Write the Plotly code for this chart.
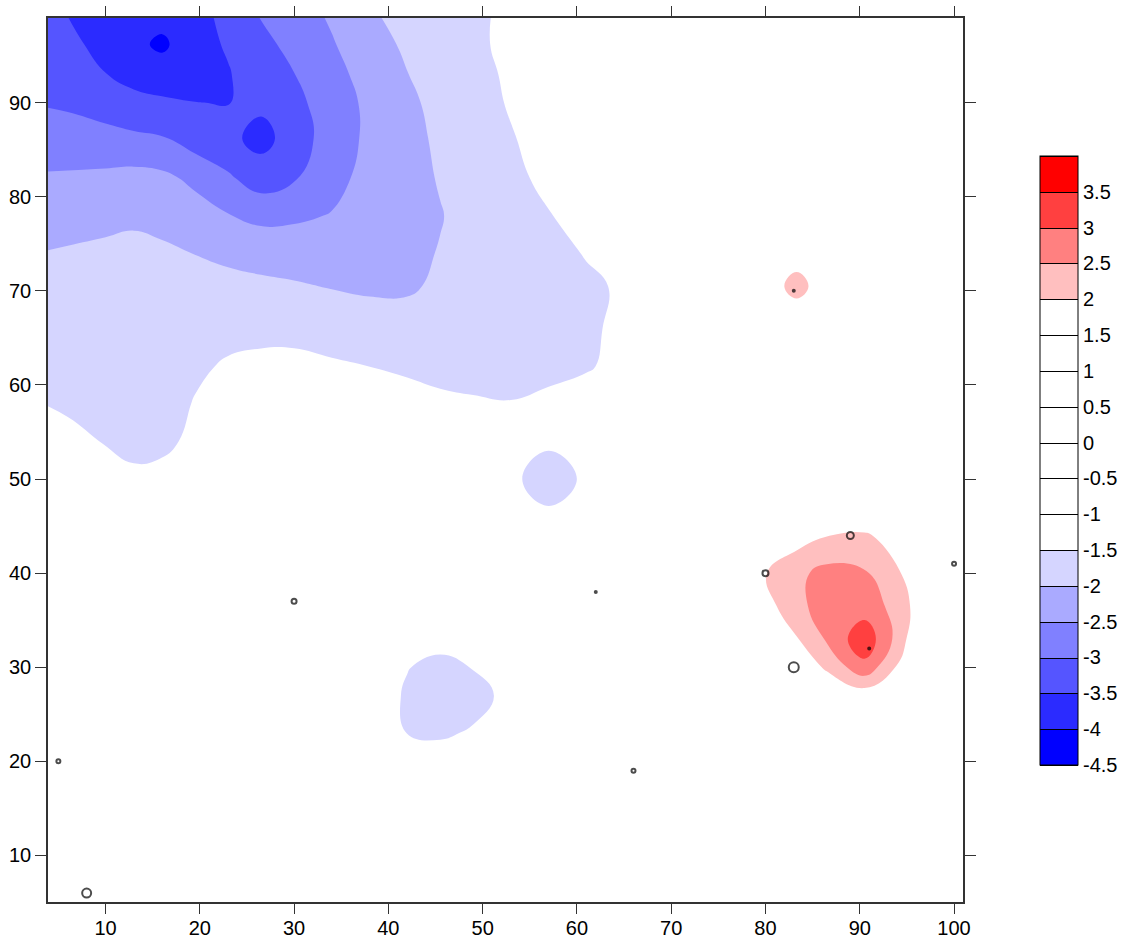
import plotly.graph_objects as go

# ---- gridded field ----
x_grid = [2, 6, 10, 13, 16, 19.5, 23, 26.5, 30, 34, 38, 42, 45.5, 49, 53, 57, 61, 65, 70, 75, 80, 83.3, 86.5, 90.5, 94, 98, 102]
y_grid = [3, 8, 13, 18, 23, 27, 30, 33, 36.5, 40, 44, 47, 50, 54, 58, 62, 66, 70.5, 74, 78, 82, 86.2, 90, 93, 96.2, 100]

z_grid = [
    [-0.6, -0.65, -0.7, -0.7, -0.7, -0.7, -0.75, -0.75, -0.75, -0.8, -0.8, -0.85, -0.8, -0.75, -0.7, -0.65, -0.55, -0.45, -0.3, -0.1, 0.0, 0.0, 0.05, 0.05, 0.05, 0.0, 0.0],
    [-0.7, -0.7, -0.75, -0.75, -0.75, -0.75, -0.8, -0.8, -0.8, -0.85, -0.85, -0.9, -0.85, -0.8, -0.8, -0.7, -0.6, -0.5, -0.3, -0.1, 0.0, 0.05, 0.1, 0.1, 0.1, 0.05, 0.0],
    [-0.7, -0.75, -0.8, -0.8, -0.8, -0.8, -0.85, -0.85, -0.9, -0.9, -0.95, -1.0, -0.95, -0.9, -0.85, -0.8, -0.7, -0.5, -0.3, -0.1, 0.0, 0.1, 0.2, 0.2, 0.2, 0.1, 0.0],
    [-0.8, -0.8, -0.85, -0.85, -0.85, -0.85, -0.9, -0.9, -0.95, -1.0, -1.1, -1.2, -1.09, -1.1, -1.0, -0.9, -0.8, -0.6, -0.3, -0.1, 0.1, 0.3, 0.4, 0.4, 0.3, 0.2, 0.1],
    [-0.8, -0.85, -0.9, -0.9, -0.9, -0.9, -0.95, -0.95, -1.0, -1.1, -1.2, -1.505, -1.567, -1.45, -1.3, -1.1, -0.9, -0.6, -0.3, 0.0, 0.3, 0.6, 0.9, 0.8, 0.6, 0.3, 0.1],
    [-0.9, -0.95, -1.0, -1.0, -1.0, -1.0, -1.0, -1.0, -1.05, -1.1, -1.2, -1.56, -1.95, -1.67, -1.36, -1.1, -0.9, -0.6, -0.2, 0.2, 0.6, 1.0, 1.4, 1.7, 1.3, 0.5, 0.2],
    [-0.9, -0.95, -1.0, -1.0, -1.0, -1.0, -1.0, -1.0, -1.05, -1.1, -1.2, -1.48, -1.64, -1.48, -1.3, -1.1, -0.9, -0.6, -0.1, 0.4, 1.0, 1.5, 2.1, 2.85, 1.95, 0.7, 0.3],
    [-0.9, -0.95, -1.0, -1.0, -1.0, -1.0, -1.0, -1.0, -1.05, -1.1, -1.2, -1.3, -1.33, -1.3, -1.2, -1.0, -0.8, -0.5, 0.0, 0.5, 1.4, 1.96, 2.56, 3.35, 2.34, 0.9, 0.4],
    [-0.9, -0.95, -1.0, -1.0, -1.0, -1.0, -1.0, -1.0, -1.05, -1.1, -1.1, -1.2, -1.25, -1.2, -1.1, -0.9, -0.7, -0.4, 0.0, 0.7, 1.77, 2.41, 2.65, 2.74, 2.35, 1.3, 0.6],
    [-0.9, -0.95, -1.0, -1.0, -1.0, -1.0, -1.0, -1.0, -1.0, -1.0, -1.05, -1.1, -1.15, -1.15, -1.1, -1.0, -0.8, -0.5, 0.0, 0.8, 1.98, 2.38, 2.66, 2.56, 2.04, 1.64, 0.8],
    [-1.0, -1.05, -1.1, -1.1, -1.1, -1.05, -1.0, -1.0, -1.0, -1.0, -1.05, -1.1, -1.15, -1.15, -1.2, -1.3, -1.2, -1.0, -0.6, 0.5, 1.3, 1.75, 1.99, 2.06, 1.81, 1.2, 0.6],
    [-1.1, -1.15, -1.2, -1.25, -1.25, -1.2, -1.15, -1.1, -1.1, -1.1, -1.1, -1.15, -1.2, -1.25, -1.3, -1.49, -1.3, -1.1, -0.9, -0.3, 0.8, 1.1, 1.4, 1.5, 1.2, 0.8, 0.5],
    [-1.2, -1.25, -1.3, -1.45, -1.42, -1.3, -1.25, -1.2, -1.2, -1.2, -1.2, -1.25, -1.3, -1.35, -1.414, -1.7, -1.433, -1.2, -0.9, -0.4, 0.3, 0.6, 0.8, 0.9, 0.7, 0.5, 0.3],
    [-1.2, -1.3, -1.53, -1.57, -1.56, -1.44, -1.25, -1.2, -1.2, -1.2, -1.2, -1.25, -1.3, -1.3, -1.35, -1.433, -1.3, -1.1, -0.9, -0.5, 0.1, 0.4, 0.6, 0.6, 0.4, 0.3, 0.2],
    [-1.48, -1.608, -1.62, -1.64, -1.72, -1.47, -1.3, -1.25, -1.25, -1.3, -1.35, -1.3, -1.35, -1.47, -1.485, -1.45, -1.3, -1.2, -1.0, -0.6, -0.1, 0.2, 0.4, 0.4, 0.3, 0.1, 0.0],
    [-1.62, -1.65, -1.69, -1.71, -1.71, -1.59, -1.44, -1.38, -1.37, -1.44, -1.502, -1.586, -1.725, -1.60, -1.635, -1.561, -1.542, -1.37, -1.1, -0.6, 0.0, 0.4, 0.4, 0.3, 0.2, 0.0, 0.0],
    [-1.745, -1.76, -1.78, -1.79, -1.79, -1.73, -1.66, -1.635, -1.645, -1.71, -1.77, -1.80, -1.71, -1.72, -1.66, -1.59, -1.53, -1.46, -1.0, -0.2, 0.9, 1.26, 0.9, 0.5, 0.2, 0.0, 0.0],
    [-1.85, -1.84, -1.83, -1.82, -1.83, -1.835, -1.90, -1.92, -1.96, -2.022, -2.074, -2.065, -1.92, -1.86, -1.76, -1.66, -1.56, -1.456, -0.9, 0.1, 1.54, 2.3, 1.54, 0.9, 0.5, 0.2, 0.1],
    [-2.005, -1.95, -1.852, -1.775, -1.892, -2.01, -2.075, -2.153, -2.195, -2.23, -2.2, -2.10, -1.98, -1.87, -1.76, -1.61, -1.48, -1.35, -1.0, -0.2, 1.0, 1.6, 1.0, 0.5, 0.2, 0.0, 0.0],
    [-2.2, -2.2, -2.2, -2.15, -2.2, -2.3, -2.477, -2.632, -2.589, -2.475, -2.32, -2.14, -2.02, -1.85, -1.69, -1.52, -1.36, -1.22, -1.08, -0.8, -0.3, 0.2, 0.1, -0.1, -0.2, -0.3, -0.3],
    [-2.459, -2.43, -2.39, -2.34, -2.392, -2.608, -2.93, -3.25, -3.046, -2.67, -2.33, -2.15, -1.97, -1.79, -1.60, -1.40, -1.27, -1.15, -1.0, -0.9, -0.8, -0.7, -0.6, -0.5, -0.5, -0.5, -0.5],
    [-2.75, -2.8, -2.85, -2.9, -2.96, -3.24, -3.38, -3.66, -3.28, -2.74, -2.41, -2.14, -1.92, -1.74, -1.53, -1.33, -1.2, -1.08, -0.95, -0.85, -0.75, -0.65, -0.55, -0.5, -0.5, -0.5, -0.5],
    [-3.014, -3.07, -3.207, -3.376, -3.43, -3.495, -3.51, -3.40, -3.13, -2.76, -2.39, -2.09, -1.87, -1.68, -1.46, -1.3, -1.18, -1.06, -0.95, -0.85, -0.75, -0.65, -0.55, -0.5, -0.5, -0.5, -0.5],
    [-3.15, -3.22, -3.49, -3.64, -3.74, -3.65, -3.53, -3.26, -3.01, -2.655, -2.32, -2.01, -1.82, -1.64, -1.43, -1.3, -1.17, -1.05, -0.95, -0.85, -0.75, -0.65, -0.55, -0.5, -0.5, -0.5, -0.5],
    [-3.28, -3.37, -3.67, -3.87, -4.1, -3.66, -3.455, -3.14, -2.85, -2.54, -2.20, -1.92, -1.75, -1.59, -1.39, -1.25, -1.12, -1.0, -0.9, -0.8, -0.7, -0.6, -0.5, -0.5, -0.5, -0.5, -0.5],
    [-3.42, -3.51, -3.70, -3.78, -3.75, -3.70, -3.30, -2.93, -2.70, -2.41, -2.03, -1.85, -1.70, -1.56, -1.44, -1.32, -1.2, -1.1, -1.0, -0.9, -0.8, -0.7, -0.6, -0.5, -0.5, -0.5, -0.5],
]

# ---- sample points ----
pt_x = [8, 5, 30, 62, 66, 80, 83, 89, 91, 100, 83]
pt_y = [6, 20, 37, 38, 19, 40, 30, 44, 32, 41, 70]
pt_size = [9, 4, 5, 2, 4, 6, 10, 7, 2, 4, 2]

# ---- contour levels / colours ----
level_start = -4.5
level_end = 4.0
level_step = 0.5
band_colors = ['#0000FF', '#2B2BFF', '#5555FF', '#8080FF', '#AAAAFF', '#D5D5FF',
               '#FFFFFF', '#FFFFFF', '#FFFFFF', '#FFFFFF', '#FFFFFF', '#FFFFFF', '#FFFFFF',
               '#FFBFBF', '#FF8080', '#FF4040', '#FF0000']
cb_tickvals = [-4.5, -4, -3.5, -3, -2.5, -2, -1.5, -1, -0.5, 0, 0.5, 1, 1.5, 2, 2.5, 3, 3.5]
cb_ticktext = ['-4.5', '-4', '-3.5', '-3', '-2.5', '-2', '-1.5', '-1', '-0.5', '0',
               '0.5', '1', '1.5', '2', '2.5', '3', '3.5']
axis_ticks = [10, 20, 30, 40, 50, 60, 70, 80, 90, 100]

n = len(band_colors)
colorscale = []
for i, c in enumerate(band_colors):
    colorscale.append([i / n, c])
    colorscale.append([(i + 1) / n, c])

FONT = 'Liberation Sans, Arial, sans-serif'
FSIZE = 20
contours = dict(start=level_start, end=level_end, size=level_step, coloring='fill')

fig = go.Figure()
fig.add_trace(go.Contour(
    x=x_grid, y=y_grid, z=z_grid,
    contours=dict(contours, showlines=False),
    line=dict(width=0, smoothing=1.3),
    colorscale=colorscale, zmin=level_start, zmax=level_end,
    showscale=False, hoverinfo='skip'))

# off-axis copy that only provides the boxed colour bar
fig.add_trace(go.Contour(
    x=[1000, 1001], y=[1000, 1001], z=[[level_start, 0], [0, level_end]],
    contours=dict(contours, showlines=True),
    line=dict(width=1, color='black'),
    colorscale=colorscale, zmin=level_start, zmax=level_end,
    showscale=True, hoverinfo='skip',
    colorbar=dict(x=1.0842, xanchor='left', xpad=0, y=0.4995, yanchor='middle', ypad=0,
                  len=609, lenmode='pixels', thickness=38, thicknessmode='pixels',
                  outlinewidth=1, outlinecolor='black',
                  tickvals=cb_tickvals, ticktext=cb_ticktext, ticks='',
                  tickfont=dict(family=FONT, size=FSIZE, color='black'))))

fig.add_trace(go.Scatter(
    x=pt_x, y=pt_y, mode='markers', hoverinfo='skip',
    marker=dict(symbol='circle-open', size=pt_size, color='black', line=dict(width=2))))

axis_common = dict(ticks='outside', tickwidth=1.3, tickcolor='#333333',
                   showline=True, linecolor='#333333', linewidth=1.6, mirror='ticks',
                   showgrid=False, zeroline=False, automargin=False,
                   tickfont=dict(family=FONT, size=FSIZE, color='black'))
fig.update_layout(
    width=1126, height=940, showlegend=False,
    margin=dict(l=48, r=163, t=18, b=38, pad=0, autoexpand=False),
    paper_bgcolor='white', plot_bgcolor='white',
    font=dict(family=FONT, size=FSIZE, color='black'),
    xaxis=dict(axis_common, ticklen=10, ticklabelstandoff=-3,
               range=[3.9, 100.95], tickvals=axis_ticks),
    yaxis=dict(axis_common, ticklen=11, range=[5.05, 99.0], tickvals=axis_ticks[:-1]),
)

fig.write_html("out.html", config={'displayModeBar': False},
               post_script="document.body.style.margin='0';document.body.style.overflow='hidden';")
